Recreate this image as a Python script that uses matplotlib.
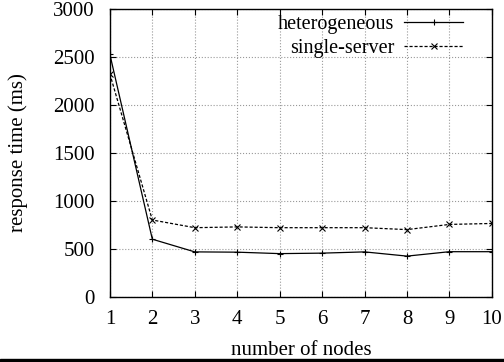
import matplotlib.pyplot as plt
from matplotlib.patches import Rectangle

# data
nodes = [1, 2, 3, 4, 5, 6, 7, 8, 9, 10]
heterogeneous = [2525, 600, 468, 465, 450, 455, 468, 424, 470, 470]
single_server = [2320, 800, 720, 728, 720, 720, 720, 700, 754, 764]

plt.rcParams['font.family'] = ['Liberation Serif', 'DejaVu Serif']

fig = plt.figure(figsize=(5.04, 3.62), dpi=100)
ax = fig.add_axes([0.218, 0.180, 0.758, 0.796])

ax.plot(nodes, heterogeneous, color='black', lw=0.9, marker='+', ms=5, mew=0.8,
        label='heterogeneous')
ax.plot(nodes, single_server, color='black', lw=0.9, ls=(0, (2.5, 1.5)), marker='x',
        ms=4, mew=0.8, label='single-server')

ax.set_xlim(1, 10)
ax.set_ylim(0, 3000)
ax.set_xticks(nodes)
ax.set_yticks(range(0, 3001, 500))
ax.grid(True, color='#999999', ls=':', lw=0.8)
ax.tick_params(direction='in', top=True, right=True, labelsize=15, length=4)
ax.tick_params(axis='x', pad=9.5)
ax.tick_params(axis='y', pad=11)
for s in ax.spines.values():
    s.set_linewidth(1.0)

ax.set_xlabel('number of nodes', fontsize=15, labelpad=8.5)
ax.set_ylabel('response time (ms)', fontsize=15, labelpad=18)

leg = ax.legend(loc='upper right', bbox_to_anchor=(0.924, 0.978), markerfirst=False,
                frameon=False, fontsize=14.5, handlelength=2.9, handletextpad=0.5,
                borderaxespad=0, borderpad=0, labelspacing=0.22)

# black strip along the bottom edge
fig.patches.append(Rectangle((0, 0), 1, 0.009, transform=fig.transFigure,
                             color='black', zorder=10))

fig.savefig('out.png', dpi=100)
